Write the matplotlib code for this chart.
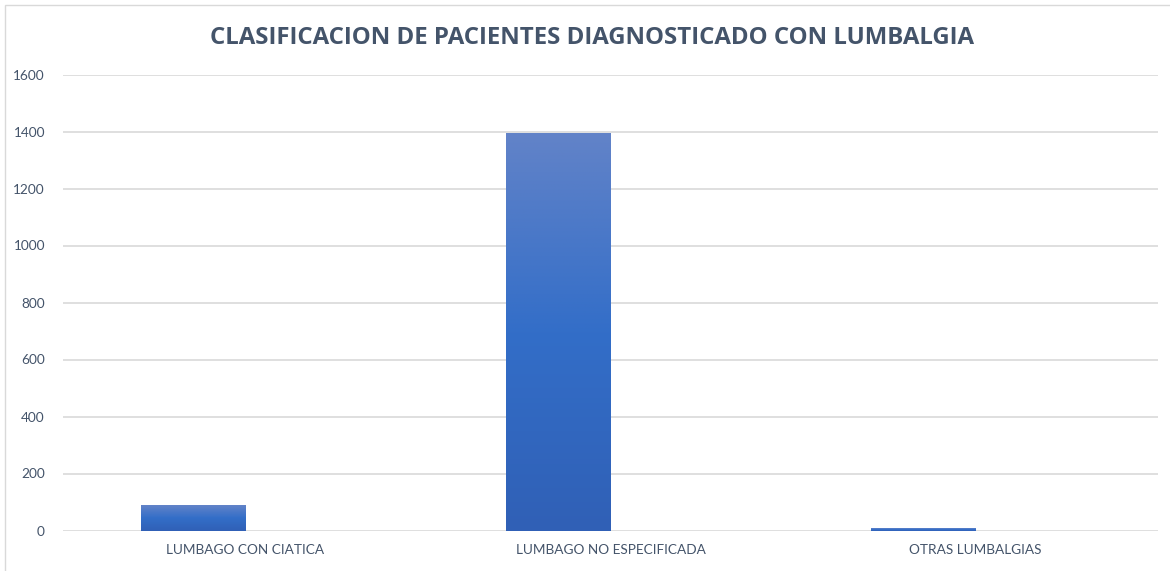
import matplotlib
matplotlib.use('Agg')
import matplotlib.pyplot as plt
import numpy as np
from matplotlib.colors import LinearSegmentedColormap
from matplotlib.patches import Rectangle

# datos
categorias = ["LUMBAGO CON CIATICA", "LUMBAGO NO ESPECIFICADA", "OTRAS LUMBALGIAS"]
pacientes = [88, 1394, 10]
ticks_y = [0, 200, 400, 600, 800, 1000, 1200, 1400, 1600]
titulo = "CLASIFICACION DE PACIENTES DIAGNOSTICADO CON LUMBALGIA"

plt.rcParams['font.family'] = ['Lato', 'DejaVu Sans']

fig = plt.figure(figsize=(11.7, 5.71), dpi=100)
ax = fig.add_axes([63 / 1170, 1 - 530.5 / 571, (1158 - 63) / 1170, (530.5 - 74.5) / 571])

# borde del area del grafico
fig.patches.append(Rectangle((5 / 1170, -0.1), 1.2, 1 - 5 / 571 + 0.1,
                             transform=fig.transFigure, fill=False,
                             edgecolor="#d9d9d9", linewidth=1.0))

cmap = LinearSegmentedColormap.from_list("barras", ["#3060b6", "#336ec8", "#6283c8"])
grad = np.linspace(0, 1, 256).reshape(-1, 1)

ancho = 0.287
x = np.arange(len(categorias))
barras = ax.bar(x - ancho / 2, pacientes, width=ancho, color="none", zorder=2)
for b in barras:
    x0, y0 = b.get_x(), b.get_y()
    w, h = b.get_width(), b.get_height()
    im = ax.imshow(grad, extent=[x0, x0 + w, y0, y0 + h], origin="lower",
                   cmap=cmap, aspect="auto", zorder=2)
    im.set_clip_path(b)

ax.set_xlim(-0.5, 2.5)
ax.set_ylim(0, 1600)
ax.set_xticks(x)
ax.set_xticklabels(categorias)
ax.set_yticks(ticks_y)
ax.tick_params(axis="both", length=0, labelsize=9.8)
ax.tick_params(axis="x", pad=10)
ax.tick_params(axis="y", pad=13)
for lab in ax.get_xticklabels() + ax.get_yticklabels():
    lab.set_color("#44546a")
ax.grid(axis="y", color="#d9d9d9", linewidth=1.2, zorder=0)
ax.set_axisbelow(True)
for s in ax.spines.values():
    s.set_visible(False)

fig.text(0.506, 0.934, titulo, ha="center", va="center", fontsize=17.3,
         fontweight="bold", color="#44546a", family=["Open Sans", "DejaVu Sans"])

plt.savefig("out.png", dpi=100)
plt.close()
